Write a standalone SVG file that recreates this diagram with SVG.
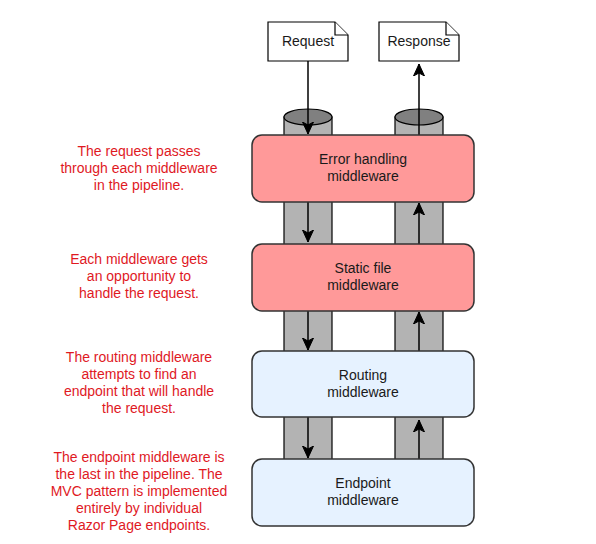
<svg xmlns="http://www.w3.org/2000/svg" width="596" height="544" viewBox="0 0 596 544">
<style>
.pipe{fill:#b3b3b3;stroke:#000;stroke-width:1.2}
.cap{fill:#808080;stroke:#000;stroke-width:1.2}
.box{stroke:#333;stroke-width:1.5}
.red{fill:#ff9999}
.blue{fill:#e6f2ff}
.doc{fill:#fff;stroke:#000;stroke-width:1.2}
.t{font-family:"Liberation Sans",Arial,sans-serif;font-size:14px;text-anchor:middle;fill:#1a1a1a}
.note{font-family:"Liberation Sans",Arial,sans-serif;font-size:14px;text-anchor:middle;fill:#e0191f}
.ln{stroke:#000;stroke-width:1.5;fill:none;marker-end:url(#ah)}
</style>
<defs>
<marker id="ah" markerUnits="userSpaceOnUse" markerWidth="14" markerHeight="12" viewBox="-12 -6 14 12" refX="0" refY="0" orient="auto">
<path d="M0,0 L-12,-5.5 L-9,0 L-12,5.5 Z" fill="#000" stroke="#000" stroke-width="1"/>
</marker>
</defs>
<rect width="596" height="544" fill="#fff"/>
<g id="pipes">
<rect class="pipe" x="284" y="117" width="48" height="370"/>
<ellipse class="cap" cx="308" cy="117" rx="24" ry="8"/>
<rect class="pipe" x="395" y="117" width="48" height="370"/>
<ellipse class="cap" cx="419" cy="117" rx="24" ry="8"/>
</g>
<g id="request">
<path class="doc" d="M268,22 H335 L348,35 V61 H268 Z"/>
<path class="doc" d="M335,22 V35 H348"/>
<text class="t" x="308" y="46">Request</text>
</g>
<g id="response">
<path class="doc" d="M379,22 H446 L459,35 V61 H379 Z"/>
<path class="doc" d="M446,22 V35 H459"/>
<text class="t" x="419" y="46">Response</text>
</g>
<g id="connectors">
<line class="ln" x1="308" y1="61" x2="308" y2="134"/>
<line class="ln" x1="308" y1="202" x2="308" y2="242"/>
<line class="ln" x1="308" y1="311" x2="308" y2="350"/>
<line class="ln" x1="308" y1="417" x2="308" y2="458"/>
<line class="ln" x1="419" y1="135" x2="419" y2="64"/>
<line class="ln" x1="419" y1="244" x2="419" y2="203"/>
<line class="ln" x1="419" y1="351" x2="419" y2="312"/>
<line class="ln" x1="419" y1="459" x2="419" y2="420"/>
</g>
<g id="error-handling">
<rect class="box red" x="252" y="135" width="222" height="67" rx="10"/>
<text class="t" x="363" y="164">Error handling</text>
<text class="t" x="363" y="181">middleware</text>
</g>
<g id="static-file">
<rect class="box red" x="252" y="244" width="222" height="67" rx="10"/>
<text class="t" x="363" y="273">Static file</text>
<text class="t" x="363" y="290">middleware</text>
</g>
<g id="routing">
<rect class="box blue" x="252" y="351" width="222" height="66" rx="10"/>
<text class="t" x="363" y="380">Routing</text>
<text class="t" x="363" y="397">middleware</text>
</g>
<g id="endpoint">
<rect class="box blue" x="252" y="459" width="222" height="67" rx="10"/>
<text class="t" x="363" y="488">Endpoint</text>
<text class="t" x="363" y="505">middleware</text>
</g>
<g id="notes">
<text class="note" x="139" y="156">The request passes</text>
<text class="note" x="139" y="173">through each middleware</text>
<text class="note" x="139" y="190">in the pipeline.</text>
<text class="note" x="139" y="264">Each middleware gets</text>
<text class="note" x="139" y="281">an opportunity to</text>
<text class="note" x="139" y="298">handle the request.</text>
<text class="note" x="139" y="362">The routing middleware</text>
<text class="note" x="139" y="379">attempts to find an</text>
<text class="note" x="139" y="396">endpoint that will handle</text>
<text class="note" x="139" y="413">the request.</text>
<text class="note" x="139" y="462">The endpoint middleware is</text>
<text class="note" x="139" y="479">the last in the pipeline. The</text>
<text class="note" x="139" y="496">MVC pattern is implemented</text>
<text class="note" x="139" y="513">entirely by individual</text>
<text class="note" x="139" y="530">Razor Page endpoints.</text>
</g>
</svg>
